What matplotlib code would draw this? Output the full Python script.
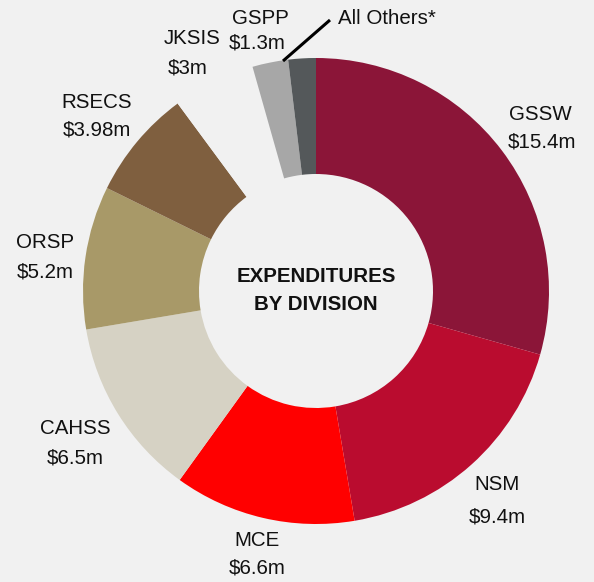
import matplotlib.pyplot as plt

# Division expenditures ($m), clockwise from 12 o'clock
divisions = ["GSSW", "NSM", "MCE", "CAHSS", "ORSP", "RSECS", "JKSIS", "GSPP", "All Others*"]
amounts = [15.4, 9.4, 6.6, 6.5, 5.2, 3.98, 3.0, 1.3, 1.0]
amount_labels = ["$15.4m", "$9.4m", "$6.6m", "$6.5m", "$5.2m", "$3.98m", "$3m", "$1.3m", ""]

bg = "#f1f1f1"
colors = ["#8b1538", "#ba0c2f", "#ff0000", "#d6d2c4", "#a89968",
          "#7f5f3f", bg, "#a7a7a7", "#54585a"]

plt.rcParams['font.family'] = ['Liberation Sans', 'DejaVu Sans']

W, H = 594, 582
fig = plt.figure(figsize=(W / 100, H / 100), dpi=100, facecolor=bg)
ax = fig.add_axes([0, 0, 1, 1])
ax.set_facecolor(bg)

cx, cy, R = 316, H - 291, 233
ax.pie(amounts, colors=colors, startangle=90, counterclock=False,
       center=(cx, cy), radius=R, frame=True,
       wedgeprops=dict(width=R - 117, linewidth=0))

ax.set_xlim(0, W)
ax.set_ylim(0, H)
ax.set_aspect("equal")
ax.axis("off")

# label positions in pixels (x, y from top) for name and amount
label_pos = {
    "GSSW": ((540, 115), (542, 142)),
    "NSM": ((497, 485), (497, 517)),
    "MCE": ((257, 540), (257, 568)),
    "CAHSS": ((75, 428), (75, 458)),
    "ORSP": ((45, 242), (45, 272)),
    "RSECS": ((97, 103), (97, 130)),
    "JKSIS": ((192, 38), (188, 68)),
    "GSPP": ((260, 18), (257, 43)),
}
fs = 14.8
for name, amt in zip(divisions, amount_labels):
    if name not in label_pos:
        continue
    (nx, ny), (vx, vy) = label_pos[name]
    ax.text(nx, H - ny, name, ha="center", va="center", fontsize=fs, color="#111111")
    ax.text(vx, H - vy, amt, ha="center", va="center", fontsize=fs, color="#111111")

ax.text(338, H - 18, "All Others*", ha="left", va="center", fontsize=fs, color="#111111")
ax.plot([330, 283], [H - 20, H - 61], color="black", linewidth=2.2, solid_capstyle="butt")

ax.text(cx, H - 277, "EXPENDITURES", ha="center", va="center", fontsize=fs,
        fontweight="bold", color="#111111")
ax.text(cx, H - 305, "BY DIVISION", ha="center", va="center", fontsize=fs,
        fontweight="bold", color="#111111")

fig.savefig("out.png", dpi=100, facecolor=bg)
